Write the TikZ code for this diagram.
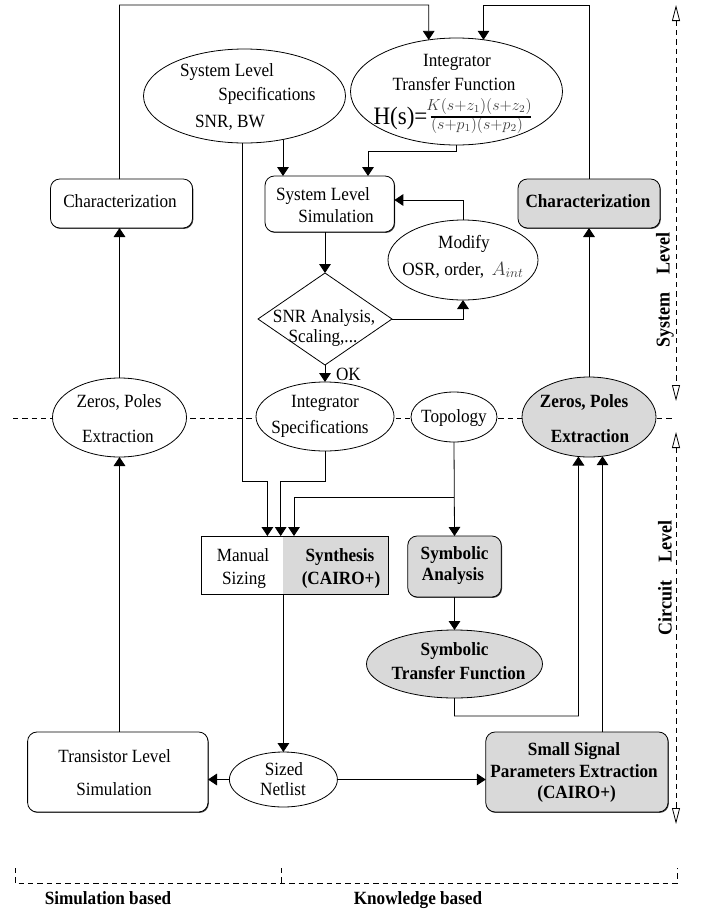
\documentclass[tikz,border=0pt]{standalone}
\usepackage[no-math]{fontspec}
\setmainfont{Liberation Serif}[FakeStretch=0.92]
\usetikzlibrary{arrows.meta,shapes.geometric,calc,shadows}
\definecolor{boxgray}{RGB}{217,217,217}
\newcommand{\fn}{\fontsize{14pt}{16pt}\selectfont}
\begin{document}
\begin{tikzpicture}[x=0.75pt,y=-0.75pt,
  every node/.style={inner sep=0pt,outer sep=0pt},
  ln/.style={line width=0.6pt},
  arr/.style={ln,-{Triangle[length=6.75pt,width=8.75pt]}},
  dsh/.style={ln,dash pattern=on 4pt off 3pt},
  lvl/.style={dsh,{Triangle[open,length=12pt,width=6pt]}-{Triangle[open,length=12pt,width=6pt]}},
  rbox/.style={draw,ln,rectangle,rounded corners=7pt,fill=white,
    drop shadow={shadow xshift=0.6pt,shadow yshift=-0.7pt,fill=black!75,opacity=1}},
  ell/.style={draw,ln,ellipse,fill=white},
  gry/.style={fill=boxgray},
  txt/.style={anchor=base,font=\fn},
  txtb/.style={anchor=base,font=\fn\bfseries},
  side/.style={rotate=90,font=\fontsize{14.7pt}{16pt}\selectfont\bfseries}
]
\useasboundingbox (0,0) rectangle (702,914);

% dashed guides
\draw[dsh] (13,418) -- (673,418);
\draw[lvl] (676,5) -- (676,401);
\draw[lvl] (676,432) -- (676,824);
\draw[dsh] (15,868) -- (15,883) -- (677,883) -- (677,868);
\draw[dsh] (281,868) -- (281,883);

% boxes
\node[rbox,minimum width=106.5pt,minimum height=36.75pt] (charL) at (121.5,203.5) {};
\node[rbox,gry,minimum width=106.5pt,minimum height=36.75pt] (charR) at (589,203.5) {};
\node[rbox,minimum width=97pt,minimum height=42pt] (simB) at (329.7,204) {};
\node[rbox,gry,minimum width=70.1pt,minimum height=45.75pt] (saB) at (454.5,566.5) {};
\node[rbox,minimum width=135.3pt,minimum height=60pt] (tlsB) at (117.8,772) {};
\node[rbox,gry,minimum width=136.7pt,minimum height=60pt] (sspB) at (576.9,772) {};
\node[rectangle,fill=white,minimum width=61.5pt,minimum height=43.5pt] (msL) at (242,565) {};
\node[rectangle,gry,minimum width=78.75pt,minimum height=43.5pt] (msR) at (335.5,565) {};
\draw[ln] (msL.north west) rectangle (msR.south east);

% ellipses
\node[ell,minimum width=151.5pt,minimum height=70.5pt] (slsE) at (244.5,96) {};
\node[ell,minimum width=159pt,minimum height=80.25pt] (itfE) at (456.5,91.5) {};
\node[ell,minimum width=112.5pt,minimum height=60pt] (modE) at (463,260) {};
\node[ell,minimum width=100.5pt,minimum height=59.25pt] (zpL) at (119.5,417.5) {};
\node[ell,minimum width=103.5pt,minimum height=51.75pt] (isE) at (325,416.5) {};
\node[ell,minimum width=64.5pt,minimum height=37.5pt] (topE) at (454,417) {};
\node[ell,gry,minimum width=100.5pt,minimum height=60pt] (zpR) at (589,417) {};
\node[ell,gry,minimum width=132pt,minimum height=51pt] (stfE) at (454.5,664) {};
\node[ell,minimum width=81pt,minimum height=41.25pt] (snE) at (283.4,779.5) {};
\node[draw,ln,diamond,aspect=1.457,fill=white,minimum width=100.5pt,minimum height=69pt] (diam) at (325,319) {};

% helper coordinates
\coordinate (c1) at (119.5,5);
\coordinate (c2) at (428.7,5);
\coordinate (c4) at (483.5,5);
\coordinate (x283) at (283,0);
\coordinate (k1) at (368,151);
\coordinate (k2) at (242,481);
\coordinate (xa) at (267.4,481);
\coordinate (k3) at (280.7,481);
\coordinate (k4) at (294,497);
\coordinate (k5) at (578.4,716);
\coordinate (x602) at (602.5,0);

% connectors
\draw[arr] (charL.north -| c1) -- (c1) -- (c2) -- ($(itfE.center)+(-27.8,-51.6)$);
\draw[arr] (charR.north) |- (c4) -- ($(itfE.center)+(27,-51.7)$);
\draw[arr] ($(slsE.center)+(38.5,43.5)$) -- (x283 |- simB.north);
\draw[arr] (itfE.south) |- (k1) -- (k1 |- simB.north);
\draw[arr] (simB.south -| diam.north) -- (diam.north);
\draw[arr] (diam.east) -| (modE.south);
\draw[arr] (modE.north) |- ($(simB.east)+(0,-4)$);
\draw[arr] (diam.south) -- (isE.north);
\draw[arr] (zpL.north) -- (zpL.north |- charL.south);
\draw[arr] (zpR.north) -- (charR.south);
\draw[arr] (k2 |- slsE.south) -- (k2) -- (xa) -- (xa |- msL.north);
\draw[arr] (isE.south) |- (k3) -- (k3 |- msL.north);
\draw[arr] (topE.south) -- (saB.north);
\draw[arr] (topE.south |- k4) -- (k4) -- (k4 |- msR.north);
\draw[arr] (saB.south) -- (stfE.north);
\draw[arr] (stfE.south) |- (k5) -- ($(zpR.center)+(-10.6,39.5)$);
\draw[arr] (x602 |- sspB.north) -- ($(zpR.center)+(13.5,39.2)$);
\draw[arr] (msL.south -| snE.north) -- (snE.north);
\draw[arr] (snE.west) -- (snE.west -| tlsB.east);
\draw[arr] (snE.east) -- (snE.east -| sspB.west);
\draw[arr] (tlsB.north -| zpL.south) -- (zpL.south);

% texts
\node[txt] (charLt) at (120,207.5) {Characterization};
\node[txtb] (charRt) at (588,207.5) {Characterization};
\node[txt] (slsT1) at (227,76) {System Level};
\node[txt] (slsT2) at (267,100) {Specifications};
\node[txt] (slsT3) at (230,127) {SNR, BW};
\node[txt] (itfT1) at (457,66) {Integrator};
\node[txt] (itfT2) at (454,90) {Transfer Function};
\node[anchor=base west,font=\fontsize{18.8pt}{21pt}\selectfont] (itfH) at (373.5,124) {H(s)=};
\node[anchor=base,font=\fontsize{12pt}{14pt}\selectfont,text=black!75] (itfN) at (479,110) {$K(s{+}z_1)(s{+}z_2)$};
\node[anchor=base,font=\fontsize{12pt}{14pt}\selectfont,text=black!75] (itfD) at (477,129) {$(s{+}p_1)(s{+}p_2)$};
\draw[line width=2pt] (430.7,117) -- (530.7,117);
\node[txt] (simT1) at (323,200) {System Level};
\node[txt] (simT2) at (336,222) {Simulation};
\node[txt] (modT1) at (464,248) {Modify};
\node[txt] (modT2) at (463,275) {OSR, order, \,{\color{black!75}$A_{int}$}};
\node[txt] (diaT1) at (324,322) {SNR Analysis,};
\node[txt] (diaT2) at (323,342) {Scaling,...};
\node[anchor=base west,font=\fn] (okT) at (336,380) {OK};
\node[txt] (zpLT1) at (119,407) {Zeros, Poles};
\node[txt] (zpLT2) at (118,442) {Extraction};
\node[txt] (isT1) at (325,407) {Integrator};
\node[txt] (isT2) at (320,433) {Specifications};
\node[txt] (topT) at (454,422) {Topology};
\node[txtb] (zpRT1) at (584,407) {Zeros, Poles};
\node[txtb] (zpRT2) at (590,442) {Extraction};
\node[txt] (msT1) at (243,561) {Manual};
\node[txt] (msT2) at (244,584) {Sizing};
\node[txtb] (msT3) at (340,561) {Synthesis};
\node[txtb] (msT4) at (341,584) {(CAIRO+)};
\node[txtb] (saT1) at (454.6,559) {Symbolic};
\node[txtb] (saT2) at (453,580) {Analysis};
\node[txtb] (stfT1) at (454.6,655) {Symbolic};
\node[txtb] (stfT2) at (458.6,679) {Transfer Function};
\node[txt] (tlsT1) at (114.7,762) {Transistor Level};
\node[txt] (tlsT2) at (114,795) {Simulation};
\node[txt] (snT1) at (284,775) {Sized};
\node[txt] (snT2) at (283,795) {Netlist};
\node[txtb] (sspT1) at (574,755) {Small Signal};
\node[txtb] (sspT2) at (574,777) {Parameters Extraction};
\node[txtb] (sspT3) at (576.6,798) {(CAIRO+)};
\node[side] (sysL) at (665,290) {System\hspace{13pt}Level};
\node[side] (cirL) at (665,578) {Circuit\hspace{13pt}Level};
\node[txtb] (simBase) at (108,904) {Simulation based};
\node[txtb] (knoBase) at (418,904) {Knowledge based};
\end{tikzpicture}
\end{document}
